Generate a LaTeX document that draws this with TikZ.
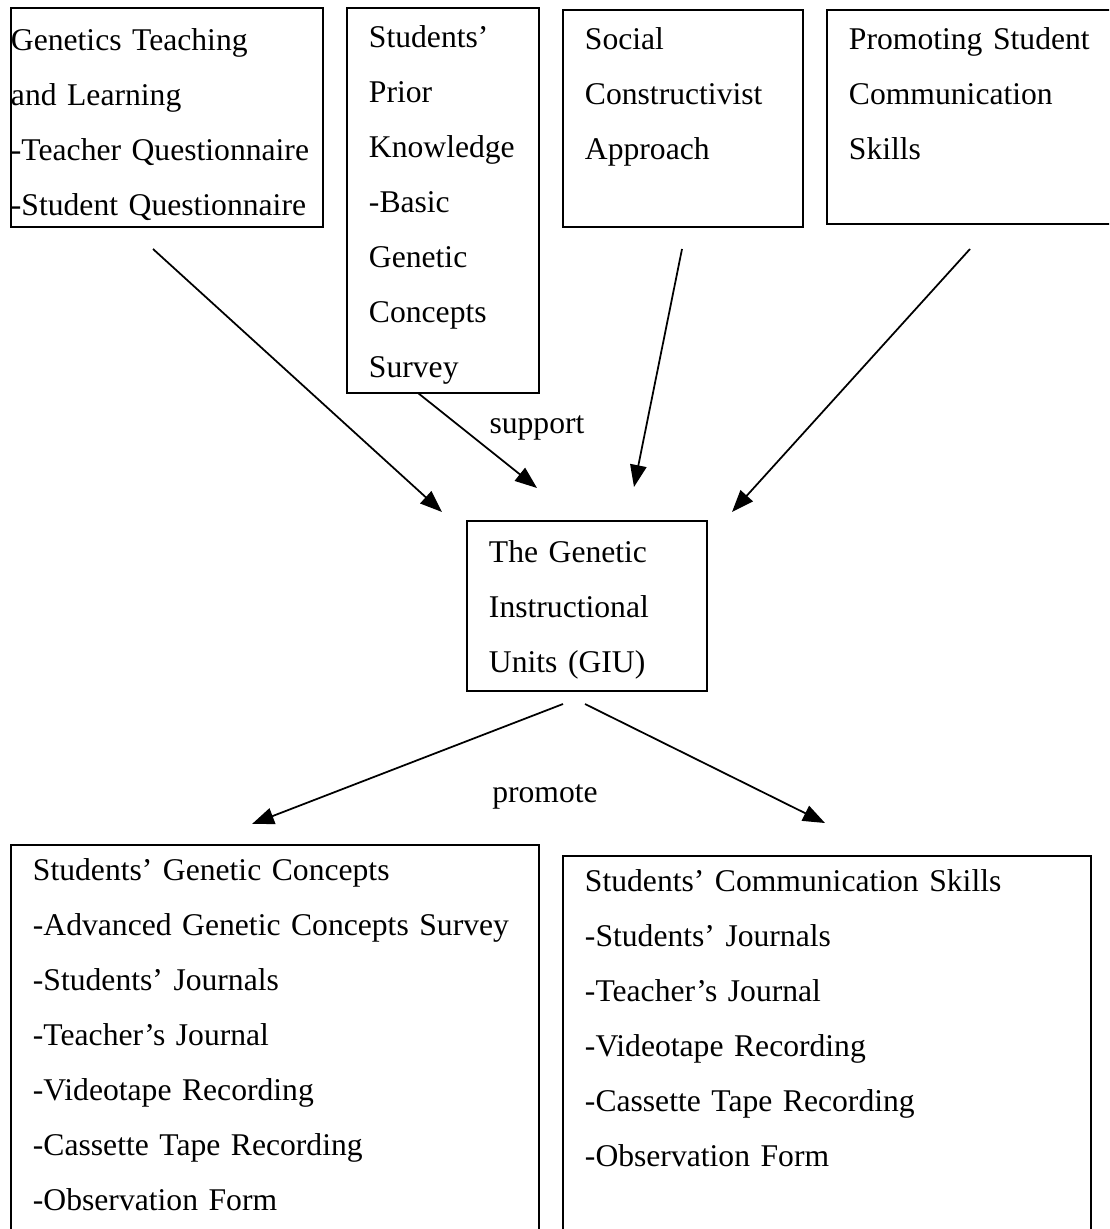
\documentclass[tikz,border=0pt]{standalone}
\usepackage{fontspec}
\setmainfont{Liberation Serif}
\usepackage{tikz}
\usetikzlibrary{arrows.meta}
\tikzset{
  unitbox/.style={rectangle,draw=black,line width=1.1pt,anchor=north west,
    align=left,inner xsep=0.44cm,inner ysep=0pt,
    font=\fontsize{18}{31.3}\selectfont},
  lbl/.style={font=\fontsize{18}{31.3}\selectfont,inner sep=0pt},
  fl/.style={-{Triangle[length=4.4mm,width=3.3mm]},draw=black,line width=1pt},
}
\begin{document}
\begin{tikzpicture}[x=0.02cm,y=-0.02cm]
  \useasboundingbox (0,0) rectangle (1109,1229);
  \clip (0,0) rectangle (1109,1229);
  % --- Top row: inputs ---
  \node[unitbox,inner xsep=0pt,text width=6.24cm,text height=0.86cm,text depth=3.52cm] (GTL) at (10,7)
    {Genetics Teaching\\and Learning\\-Teacher Questionnaire\\-Student Questionnaire};
  \node[unitbox,text width=2.96cm,text height=0.80cm,text depth=6.9cm] (SPK) at (346,7)
    {Students'\\Prior\\Knowledge\\-Basic\\Genetic\\Concepts\\Survey};
  \node[unitbox,text width=3.92cm,text height=0.80cm,text depth=3.54cm] (SCA) at (562,9)
    {Social\\Constructivist\\Approach};
  \node[unitbox,text width=4.92cm,text height=0.80cm,text depth=3.48cm] (PSC) at (826,9)
    {Promoting Student\\Communication\\Skills};
  % --- Centre: instructional units ---
  \node[unitbox,text width=3.92cm,text height=0.84cm,text depth=2.56cm] (GIU) at (466,520)
    {The Genetic\\Instructional\\Units (GIU)};
  % --- Bottom row: outcomes ---
  \node[unitbox,text width=9.68cm,text height=0.72cm,text depth=7.26cm] (SGC) at (10,844)
    {Students' Genetic Concepts\\-Advanced Genetic Concepts Survey\\-Students' Journals\\-Teacher's Journal\\-Videotape Recording\\-Cassette Tape Recording\\-Observation Form};
  \node[unitbox,text width=9.68cm,text height=0.72cm,text depth=7.0cm] (SCS) at (562,855)
    {Students' Communication Skills\\-Students' Journals\\-Teacher's Journal\\-Videotape Recording\\-Cassette Tape Recording\\-Observation Form};
  % --- Labels ---
  \node[lbl] (support) at (537,428) {support};
  \node[lbl] (promote) at (545,797) {promote};
  % --- Arrow ends ---
  \foreach \name/\x/\y in {a1/153/249,b1/442/512,a2/418/393,b2/537/488,a3/682/249,b3/634/487,
      a4/970/249,b4/732/512,a5/563/704,b5/252/824,a6/585/704,b6/825/823}{
    \coordinate (\name) at (\x,\y);}
  % --- Arrows ---
  \foreach \i in {1,...,6}{\draw[fl] (a\i) -- (b\i);}
\end{tikzpicture}
\end{document}
